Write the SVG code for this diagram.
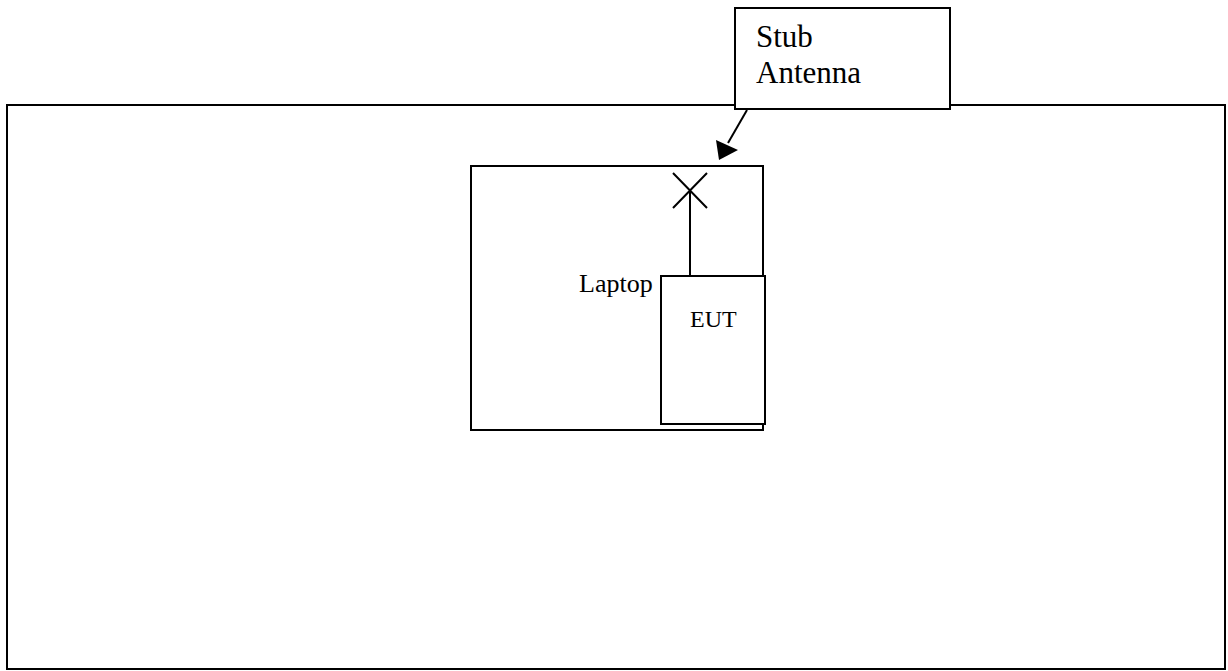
<svg xmlns="http://www.w3.org/2000/svg" width="1228" height="671" viewBox="0 0 1228 671">
<style>
.b{fill:#fff;stroke:#000;stroke-width:2}
.l{stroke:#000;stroke-width:2;fill:none}
text{font-family:"Liberation Serif","Times New Roman",serif;fill:#000}
</style>
<defs>
<marker id="ah" markerWidth="10" markerHeight="10" refX="9" refY="5" orient="auto" markerUnits="userSpaceOnUse" viewBox="0 0 10 10">
<path d="M0,0 L10,5 L0,10 z" fill="#000"/>
</marker>
</defs>
<rect width="1228" height="671" fill="#fff"/>
<g id="room"><rect class="b" x="7" y="105" width="1218" height="564"/></g>
<g id="laptop">
<rect class="b" x="471" y="166" width="292" height="264"/>
<text x="579" y="292" font-size="26">Laptop</text>
</g>
<g id="antenna-mark">
<path class="l" d="M673,173 L707,208 M707,173 L673,208 M690,191 L690,276"/>
</g>
<g id="eut">
<rect class="b" x="661" y="276" width="104" height="148"/>
<text x="690" y="327" font-size="24">EUT</text>
</g>
<g id="stub">
<rect class="b" x="735" y="8" width="215" height="101"/>
<text font-size="31"><tspan x="756" y="47">Stub</tspan><tspan x="756" y="83">Antenna</tspan></text>
</g>
<g id="connectors">
<line x1="747" y1="110" x2="728" y2="143" class="l"/>
<path d="M719,160 L716,140 L738,150 z" fill="#000"/>
</g>
</svg>
